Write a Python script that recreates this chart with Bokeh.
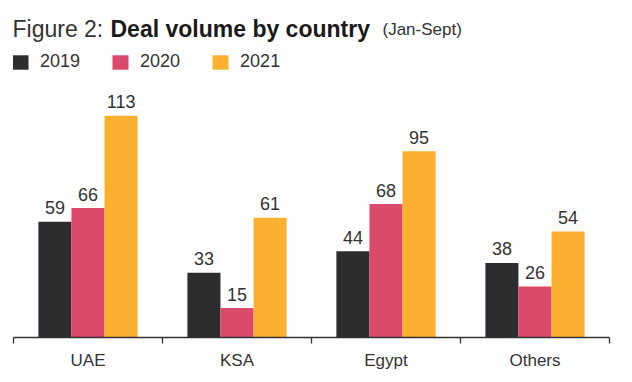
from bokeh.plotting import figure
from bokeh.models import ColumnDataSource, Range1d, FixedTicker, Label, Legend, LegendItem
from bokeh.transform import dodge
from bokeh.core.properties import value
from bokeh.embed import file_html
from bokeh.resources import INLINE

countries = ["UAE", "KSA", "Egypt", "Others"]
years = ["2019", "2020", "2021"]
v2019 = [59, 33, 44, 38]
v2020 = [66, 15, 68, 26]
v2021 = [113, 61, 95, 54]
series = [v2019, v2020, v2021]
colors = ["#2d2d2f", "#db4a6a", "#fbb02f"]

title_prefix = "Figure 2:"
title_main = "Deal volume by country"
title_suffix = "(Jan-Sept)"

FONT = "Liberation Sans"
TXT = "#333333"

centers = [i + 0.5 for i in range(len(countries))]
edges = list(range(len(countries) + 1))

p = figure(width=632, height=382, x_range=Range1d(0, len(countries)), y_range=Range1d(0, 171.8),
           output_backend="svg", toolbar_location=None, y_axis_location=None,
           min_border_left=13, min_border_right=23, min_border_top=0, min_border_bottom=45)
p.grid.visible = False
p.outline_line_color = None
p.background_fill_color = "white"
p.border_fill_color = "white"

bw = 0.222
offsets = [-bw, 0.0, bw]
items = []
for yr, vals, col, off in zip(years, series, colors, offsets):
    src = ColumnDataSource(dict(x=centers, y=vals, label=[str(v) for v in vals]))
    r = p.vbar(x=dodge("x", off), top="y", width=bw, source=src,
               fill_color=col, line_color=None)
    p.text(x=dodge("x", off), y="y", text="label", source=src, text_align="center",
           text_baseline="alphabetic", y_offset=-14, text_font=value(FONT),
           text_font_size=value("18px"), text_color=TXT)
    items.append(LegendItem(label=yr, renderers=[r]))

ax = p.xaxis[0]
ax.ticker = FixedTicker(ticks=centers, minor_ticks=edges)
ax.major_label_overrides = {c: n for c, n in zip(centers, countries)}
ax.major_tick_out = 0
ax.major_tick_in = 0
ax.minor_tick_out = 6
ax.minor_tick_in = 0
ax.minor_tick_line_color = TXT
ax.minor_tick_line_width = 1.3
ax.axis_line_color = TXT
ax.axis_line_width = 1.3
ax.major_label_standoff = 7
ax.major_label_text_font = FONT
ax.major_label_text_font_size = "17px"
ax.major_label_text_color = TXT

legend = Legend(items=items, orientation="horizontal", location=(-3, 265),
                glyph_width=20, glyph_height=18, label_height=18, label_standoff=10,
                spacing=30, padding=0, margin=0, border_line_color=None,
                background_fill_alpha=0, label_text_font=FONT,
                label_text_font_size="18px", label_text_color=TXT,
                label_text_baseline="middle")
p.add_layout(legend)

p.add_layout(Label(x=-1, y=309, x_units="screen", y_units="screen", text=title_prefix,
                   text_font=FONT, text_font_size="23px", text_color="#333333",
                   text_baseline="alphabetic"))
p.add_layout(Label(x=97, y=309, x_units="screen", y_units="screen", text=title_main,
                   text_font=FONT, text_font_size="23px", text_font_style="bold",
                   text_color="#1a1a1a", text_baseline="alphabetic"))
p.add_layout(Label(x=369, y=308, x_units="screen", y_units="screen", text=title_suffix,
                   text_font=FONT, text_font_size="17px", text_color="#333333",
                   text_baseline="alphabetic"))

open("out.html", "w").write(file_html(p, INLINE))
